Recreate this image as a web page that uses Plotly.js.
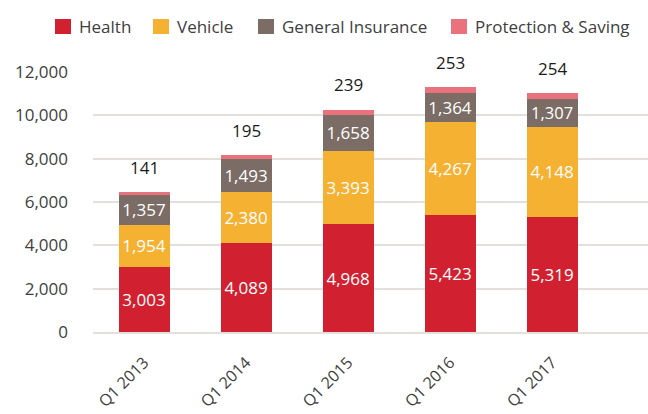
<!DOCTYPE html>
<html>
<head>
<meta charset="utf-8">
<script src="https://cdn.plot.ly/plotly-3.0.1.min.js"></script>
<style>html,body{margin:0;padding:0;background:#fff;}#chart{width:648px;height:414px;}</style>
</head>
<body>
<div id="chart"></div>
<script>
const categories = ["Q1 2013", "Q1 2014", "Q1 2015", "Q1 2016", "Q1 2017"];
const health = [3003, 4089, 4968, 5423, 5319];
const vehicle = [1954, 2380, 3393, 4267, 4148];
const generalInsurance = [1357, 1493, 1658, 1364, 1307];
const protectionSaving = [141, 195, 239, 253, 254];
const seriesNames = ["Health", "Vehicle", "General Insurance", "Protection & Saving"];
const seriesColors = ["#D12130", "#F5B132", "#7B6D65", "#E9727C"];
const yTicks = [0, 2000, 4000, 6000, 8000, 10000, 12000];

const FONT = "Open Sans, sans-serif";
const W = 648, H = 414, ML = 93, MR = 0, MT = 72, MB = 82;
const PW = W - ML - MR, PH = H - MT - MB;
const px2x = x => (x - ML) / PW;
const px2y = y => (H - MB - y) / PH;

function segTrace(i, vals, showText) {
  return {
    type: "bar", name: seriesNames[i], x: categories, y: vals,
    marker: {color: seriesColors[i]},
    text: showText ? vals.map(v => v.toLocaleString("en-US")) : vals.map(() => ""),
    textposition: showText ? "inside" : "none",
    insidetextanchor: "middle",
    textfont: {color: "#ffffff", size: 17, family: FONT},
    hoverinfo: "skip", showlegend: false
  };
}
const traces = [
  segTrace(0, health, true),
  segTrace(1, vehicle, true),
  segTrace(2, generalInsurance, true),
  segTrace(3, protectionSaving, false)
];
const totals = categories.map((c, i) => health[i] + vehicle[i] + generalInsurance[i] + protectionSaving[i]);
const annotations = categories.map((c, i) => ({
  x: c, y: totals[i], text: String(protectionSaving[i]),
  showarrow: false, yanchor: "middle", yshift: 25,
  font: {size: 17, color: "#1a1a1a", family: FONT}
}));

// manual legend (square + label) placed in pixel terms
const legendSquareX = [55, 153, 258, 451];
const shapes = [];
legendSquareX.forEach((sx, i) => {
  shapes.push({type: "rect", xref: "paper", yref: "paper",
    x0: px2x(sx), x1: px2x(sx + 16), y0: px2y(34), y1: px2y(19),
    fillcolor: seriesColors[i], line: {width: 0}});
  annotations.push({xref: "paper", yref: "paper", x: px2x(sx + 22), y: px2y(27),
    xanchor: "left", yanchor: "middle", showarrow: false, text: seriesNames[i],
    font: {size: 17, color: "#404040", family: FONT}});
});

const layout = {
  width: W, height: H,
  margin: {l: ML, r: MR, t: MT, b: MB},
  paper_bgcolor: "#ffffff", plot_bgcolor: "#ffffff",
  barmode: "stack", bargap: 0.5,
  font: {family: FONT, color: "#404040", size: 17},
  showlegend: false,
  xaxis: {type: "category", range: [-0.5, 4.94], tickangle: -45, ticks: "", showgrid: false,
          showline: true, linecolor: "#E2DFDC", linewidth: 2, ticklabelstandoff: 13,
          tickfont: {size: 16, color: "#404040"}},
  yaxis: {range: [0, 12000], tickvals: yTicks, ticktext: yTicks.map(v => v.toLocaleString("en-US")),
          showgrid: true, gridcolor: "#E2DFDC", gridwidth: 2, zeroline: false, showline: false,
          ticks: "", ticklabelstandoff: 24, tickfont: {size: 17, color: "#404040"}},
  shapes: shapes,
  annotations: annotations
};
Plotly.newPlot("chart", traces, layout, {displayModeBar: false, staticPlot: true});
</script>
</body>
</html>
